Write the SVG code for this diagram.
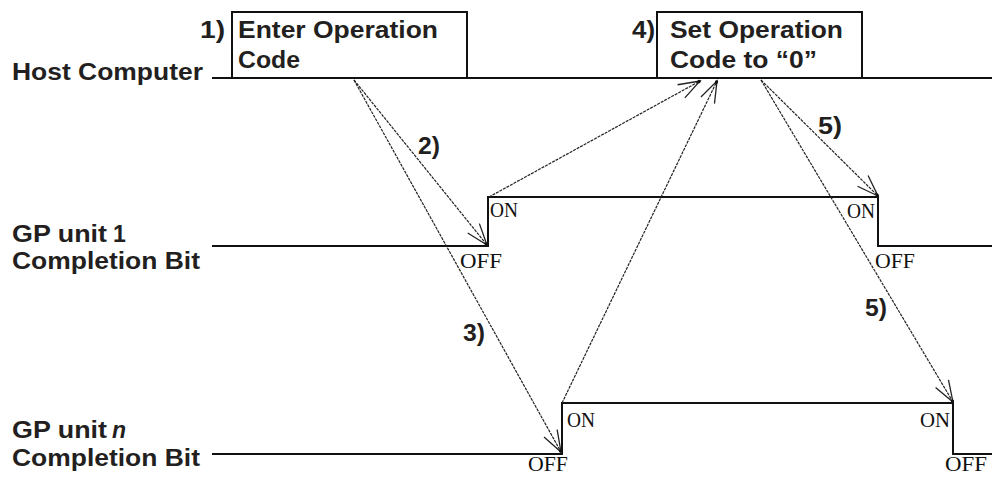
<svg xmlns="http://www.w3.org/2000/svg" width="992" height="477" viewBox="0 0 992 477">
<style>
.lbl{font-family:"Liberation Sans",Arial,sans-serif;font-weight:bold;font-size:23px;fill:#231f20}
.st{font-family:"Liberation Serif","Times New Roman",serif;font-size:21px;fill:#111}
.sig{fill:none;stroke:#111;stroke-width:2}
.box{fill:#fff;stroke:#111;stroke-width:2}
.arr{fill:none;stroke:#222;stroke-width:1.2;stroke-dasharray:3 1;marker-end:url(#ah)}
</style>
<defs>
<marker id="ah" markerUnits="userSpaceOnUse" markerWidth="30" markerHeight="30" viewBox="-24 -12 28 24" refX="0" refY="0" orient="auto">
<path d="M-20,-7 L0,0 L-20,7" fill="none" stroke="#222" stroke-width="1.2"/>
<circle cx="-1" cy="0" r="1.5" fill="#111"/>
</marker>
</defs>
<g id="labels">
<text class="lbl" x="12" y="80" textLength="191" lengthAdjust="spacingAndGlyphs">Host Computer</text>
<text class="lbl" x="12" y="242" textLength="95" lengthAdjust="spacingAndGlyphs">GP unit</text>
<text class="lbl" x="113" y="242">1</text>
<text class="lbl" x="12" y="269" textLength="188" lengthAdjust="spacingAndGlyphs">Completion Bit</text>
<text class="lbl" x="12" y="438" textLength="95" lengthAdjust="spacingAndGlyphs">GP unit</text>
<text class="lbl" x="112" y="438" font-style="italic">n</text>
<text class="lbl" x="12" y="466" textLength="188" lengthAdjust="spacingAndGlyphs">Completion Bit</text>
</g>
<g id="signals">
<line class="sig" x1="212" y1="78" x2="992" y2="78"/>
<polyline class="sig" points="212,246 488,246 488,197 878,197 878,246 992,246"/>
<polyline class="sig" points="212,454 562,454 562,403 953,403 953,454 992,454"/>
</g>
<g id="step1">
<rect class="box" x="232" y="12" width="235" height="66"/>
<text class="lbl" x="200" y="38" textLength="25" lengthAdjust="spacingAndGlyphs">1)</text>
<text class="lbl" x="238" y="38" textLength="200" lengthAdjust="spacingAndGlyphs">Enter Operation</text>
<text class="lbl" x="238" y="68" textLength="62" lengthAdjust="spacingAndGlyphs">Code</text>
</g>
<g id="step4">
<rect class="box" x="657" y="12" width="205" height="66"/>
<text class="lbl" x="632" y="38" textLength="23" lengthAdjust="spacingAndGlyphs">4)</text>
<text class="lbl" x="670" y="38" textLength="173" lengthAdjust="spacingAndGlyphs">Set Operation</text>
<text class="lbl" x="670" y="68" textLength="147" lengthAdjust="spacingAndGlyphs">Code to “0”</text>
</g>
<g id="states">
<text class="st" x="490" y="217" textLength="28" lengthAdjust="spacingAndGlyphs">ON</text>
<text class="st" x="460" y="268" textLength="42" lengthAdjust="spacingAndGlyphs">OFF</text>
<text class="st" x="847" y="218" textLength="28" lengthAdjust="spacingAndGlyphs">ON</text>
<text class="st" x="875" y="268" textLength="40" lengthAdjust="spacingAndGlyphs">OFF</text>
<text class="st" x="567" y="427" textLength="28" lengthAdjust="spacingAndGlyphs">ON</text>
<text class="st" x="528" y="471" font-size="20" textLength="40" lengthAdjust="spacingAndGlyphs">OFF</text>
<text class="st" x="920" y="427" textLength="30" lengthAdjust="spacingAndGlyphs">ON</text>
<text class="st" x="945" y="471" font-size="20" textLength="42" lengthAdjust="spacingAndGlyphs">OFF</text>
</g>
<g id="connectors">
<line class="arr" x1="354" y1="80" x2="487" y2="245"/>
<line class="arr" x1="354" y1="80" x2="561" y2="452"/>
<line class="arr" x1="489" y1="197" x2="700" y2="81"/>
<line class="arr" x1="562" y1="403" x2="717" y2="81"/>
<line class="arr" x1="761" y1="80" x2="878" y2="196"/>
<line class="arr" x1="761" y1="80" x2="953" y2="402"/>
</g>
<g id="step-labels">
<text class="lbl" x="418" y="154" textLength="22" lengthAdjust="spacingAndGlyphs">2)</text>
<text class="lbl" x="463" y="341" textLength="22" lengthAdjust="spacingAndGlyphs">3)</text>
<text class="lbl" x="818" y="134" textLength="24" lengthAdjust="spacingAndGlyphs">5)</text>
<text class="lbl" x="865" y="316" textLength="22" lengthAdjust="spacingAndGlyphs">5)</text>
</g>
</svg>
